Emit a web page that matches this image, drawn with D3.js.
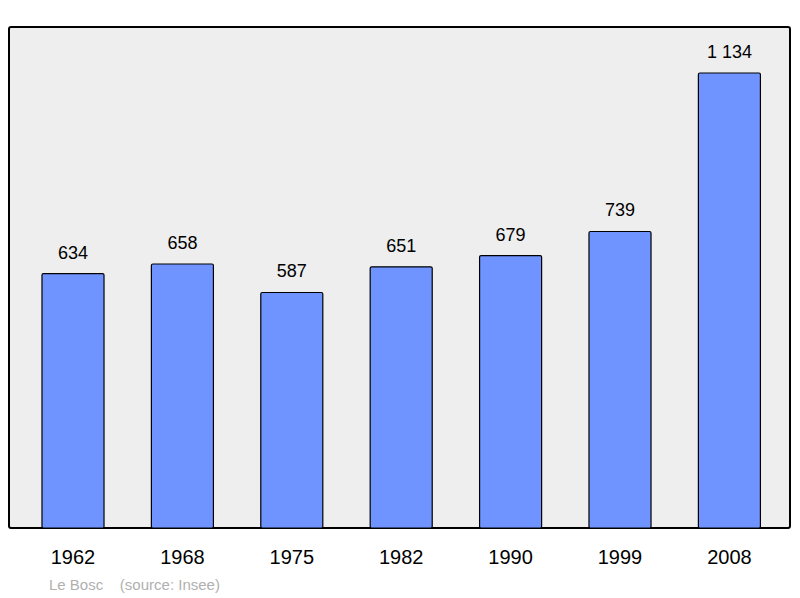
<!DOCTYPE html><html><head><meta charset="utf-8"><script src="https://cdn.jsdelivr.net/npm/d3@7"></script>
<style>body{margin:0;background:#fff}</style></head><body><svg id="c" width="800" height="598"></svg>
<script>
const years=["1962","1968","1975","1982","1990","1999","2008"];
const values=[634,658,587,651,679,739,1134];
const labels=["634","658","587","651","679","739","1 134"];
const svg=d3.select("#c");
const F="Liberation Sans, Arial, sans-serif";
svg.append("rect").attr("x",9).attr("y",27).attr("width",781).attr("height",501).attr("rx",2)
 .attr("fill","#eeeeee").attr("stroke","#000").attr("stroke-width",2);
const x=d3.scaleBand().domain(years).range([18.3,784.1]).paddingInner(0.433).paddingOuter(0.2165);
const y=d3.scaleLinear().domain([0,1134]).range([528,73]);
svg.selectAll(".b").data(values).join("rect").attr("x",(d,i)=>x(years[i])).attr("y",d=>y(d))
 .attr("width",x.bandwidth()).attr("height",d=>528-y(d)).attr("rx",1.5)
 .attr("fill","#7094ff").attr("stroke","#000").attr("stroke-width",1.2);
svg.selectAll(".v").data(values).join("text").attr("x",(d,i)=>x(years[i])+x.bandwidth()/2).attr("y",d=>y(d)-15)
 .attr("text-anchor","middle").attr("font-family",F).attr("font-size",18).text((d,i)=>labels[i]);
svg.selectAll(".yl").data(years).join("text").attr("x",d=>x(d)+x.bandwidth()/2).attr("y",564)
 .attr("text-anchor","middle").attr("font-family",F).attr("font-size",20).text(d=>d);
svg.append("text").attr("x",49).attr("y",590).attr("font-family",F).attr("font-size",15).attr("fill","#b0b0b0")
 .attr("xml:space","preserve").text("Le Bosc    (source: Insee)");
</script></body></html>
